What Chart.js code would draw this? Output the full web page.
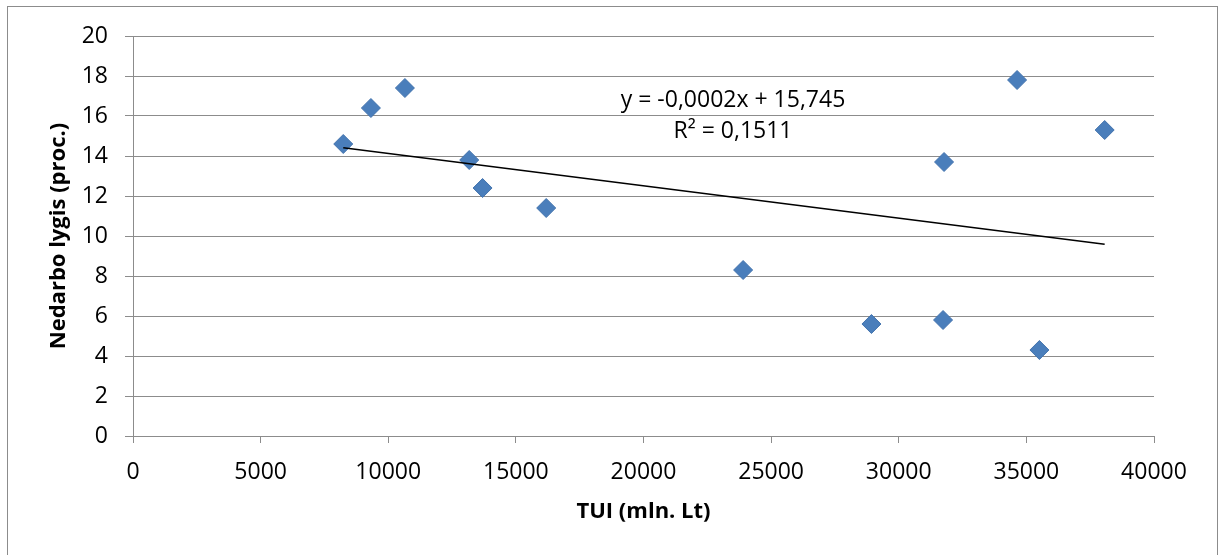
<!DOCTYPE html>
<html>
<head>
<meta charset="utf-8">
<script src="https://cdn.jsdelivr.net/npm/chart.js@4"></script>
<style>
  html, body { margin: 0; padding: 0; background: #fff; overflow: hidden; }
  #frame { position: absolute; left: 7px; top: 6px; width: 1209px; height: 600px; border: 1px solid #8c8c8c; }
  #chart { position: absolute; left: 0; top: 0; }
</style>
</head>
<body>
<div id="frame"></div>
<canvas id="chart" width="1220" height="555"></canvas>
<script>
// TUI (mln. Lt) vs nedarbo lygis (proc.)
const tuiValues = [8237, 9321, 10653, 13172, 13695, 16188, 23903, 28930, 31736, 31775, 35511, 34636, 38068];
const unemployment = [14.6, 16.4, 17.4, 13.8, 12.4, 11.4, 8.3, 5.6, 5.8, 13.7, 4.3, 17.8, 15.3];
const trendLabel = ["y = -0,0002x + 15,745", "R\u00B2 = 0,1511"];
const xTitle = "TUI (mln. Lt)";
const yTitle = "Nedarbo lygis (proc.)";

const points = tuiValues.map((x, i) => ({ x, y: unemployment[i] }));

// tiesinė regresija (mažiausių kvadratų)
const n = points.length;
const mx = tuiValues.reduce((a, b) => a + b, 0) / n;
const my = unemployment.reduce((a, b) => a + b, 0) / n;
let sxy = 0, sxx = 0;
points.forEach(p => { sxy += (p.x - mx) * (p.y - my); sxx += (p.x - mx) ** 2; });
const slope = sxy / sxx;
const intercept = my - slope * mx;
const xMin = Math.min(...tuiValues), xMax = Math.max(...tuiValues);
const trend = [xMin, xMax].map(x => ({ x, y: intercept + slope * x }));

const GRID = '#8c8c8c';
const FONT = "'Open Sans', sans-serif";

const trendText = {
  id: 'trendText',
  afterDatasetsDraw(chart) {
    const ctx = chart.ctx;
    ctx.save();
    ctx.fillStyle = '#000';
    ctx.font = "23px " + FONT;
    ctx.textAlign = 'center';
    ctx.textBaseline = 'middle';
    ctx.fillText(trendLabel[0], 733, 100);
    ctx.fillText(trendLabel[1], 733, 131);
    ctx.restore();
  }
};

new Chart(document.getElementById('chart'), {
  type: 'scatter',
  data: {
    datasets: [{
      label: 'trend',
      type: 'line',
      data: trend,
      borderColor: '#000',
      borderWidth: 1.5,
      pointRadius: 0,
      fill: false,
      order: 0
    }, {
      label: 'data',
      data: points,
      pointStyle: 'rectRot',
      pointRadius: 9.5,
      backgroundColor: '#4a7ebb',
      borderColor: '#4373ad',
      borderWidth: 1,
      order: 1
    }]
  },
  options: {
    responsive: false,
    animation: false,
    maintainAspectRatio: false,
    layout: { padding: { left: 0, top: 36, right: 66, bottom: 0 } },
    plugins: { legend: { display: false }, tooltip: { enabled: false } },
    scales: {
      x: {
        type: 'linear',
        min: 0, max: 40000,
        ticks: { stepSize: 5000, color: '#000', font: { family: FONT, size: 23 }, padding: 16, maxRotation: 0,
                 callback: v => String(v) },
        grid: { drawOnChartArea: false, drawTicks: true, tickLength: 7, color: GRID },
        border: { color: GRID },
        title: { display: true, text: xTitle, color: '#000', font: { family: FONT, size: 22, weight: 'bold' }, padding: { bottom: 30 } },
        afterFit(scale) { scale.height = 119; }
      },
      y: {
        min: 0, max: 20,
        ticks: { stepSize: 2, color: '#000', font: { family: FONT, size: 23 }, padding: 17 },
        grid: { color: GRID, tickLength: 8 },
        border: { color: GRID },
        title: { display: true, text: yTitle, color: '#000', font: { family: FONT, size: 22, weight: 'bold' }, padding: { top: 46 } },
        afterFit(scale) { scale.width = 133; }
      }
    }
  },
  plugins: [trendText]
});
</script>
</body>
</html>
